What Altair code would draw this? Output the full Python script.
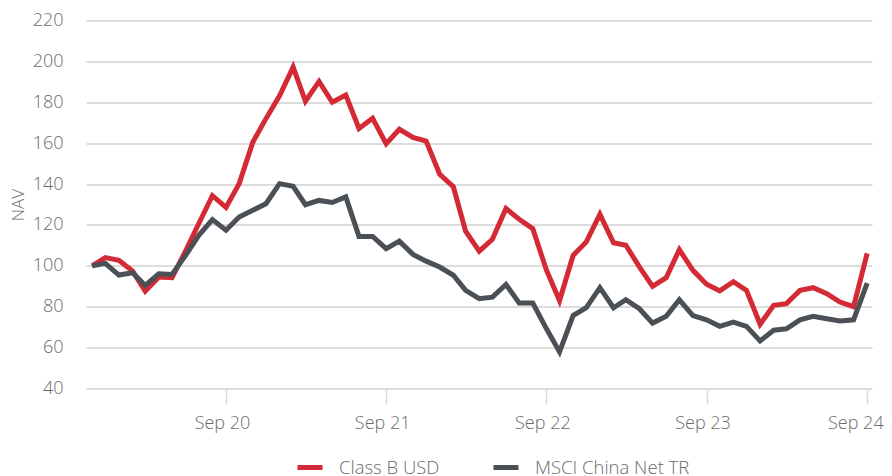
import altair as alt
import pandas as pd

dates = [d.strftime("%Y-%m-%d") for d in pd.date_range("2019-11-01", "2024-09-01", freq="MS")]

class_b_usd = [100, 104, 102.7, 97.5, 87.6, 94.5, 94.2, 107.3, 120.7, 134.3,
               128.6, 140.2, 160.4, 172, 183.2, 197.2, 180.5, 190.2, 180, 183.5,
               167.2, 172.2, 159.7, 166.8, 162.8, 161, 144.8, 138.7, 116.9, 107.2,
               113, 128, 122.8, 118.2, 98, 83, 105.1, 111.7, 125.2, 111.3,
               110.1, 99.5, 90, 94.2, 107.9, 97.8, 91, 87.8, 92.2, 88,
               71.4, 80.7, 81.5, 88, 89.3, 86.4, 82.3, 80, 106.1]

msci_china = [100, 101.2, 95.5, 96.6, 90.4, 96.1, 95.8, 105.1, 114.9, 122.6,
              117.4, 123.9, 127.2, 130.4, 140.2, 138.9, 129.9, 132, 131, 133.7,
              114.4, 114.4, 108.4, 112.1, 105.6, 102.3, 99.4, 95.4, 88, 83.9,
              84.7, 90.9, 81.8, 81.8, 69.3, 57.9, 75.7, 79.5, 89.3, 79.5,
              83.4, 79, 72, 75.3, 83.4, 75.7, 73.6, 70.4, 72.5, 70.4,
              63.3, 68.5, 69.2, 73.6, 75.3, 74.1, 73, 73.6, 91.5]

series_names = ["Class B USD", "MSCI China Net TR"]
series_colors = ["#d42a36", "#4a5055"]
y_ticks = [40, 60, 80, 100, 120, 140, 160, 180, 200, 220]
x_tick_years = [2020, 2021, 2022, 2023, 2024]

df = pd.DataFrame({
    "date": dates * 2,
    "series": [series_names[0]] * len(dates) + [series_names[1]] * len(dates),
    "nav": class_b_usd + msci_china,
})

FONT = "Open Sans"
TXT = "#6b6b6b"
GRID = "#dcdcdc"
LAST = "utcyear(datum.value) == 2024"

chart = alt.Chart(df).mark_line(strokeWidth=5, strokeJoin="miter", strokeCap="butt").encode(
    x=alt.X(
        "date:T",
        scale=alt.Scale(
            type="utc",
            domain=[
                alt.DateTime(year=2019, month=10, date=18, utc=True),
                alt.DateTime(year=2024, month=9, date=12, utc=True),
            ],
        ),
        axis=alt.Axis(
            title=None,
            values=[alt.DateTime(year=y, month=9, date=1, utc=True) for y in x_tick_years],
            labelExpr="utcFormat(datum.value, '%b %y')",
            grid=False,
            domain=False,
            ticks=True,
            tickSize=15,
            tickColor=GRID,
            tickWidth=1.5,
            labelPadding=11,
            labelAlign={"condition": {"test": LAST, "value": "right"}, "value": "center"},
            labelOffset={"condition": {"test": LAST, "value": 16}, "value": -4},
            labelFont=FONT,
            labelFontSize=18,
            labelFontWeight=300,
            labelColor=TXT,
            labelOverlap=False,
            labelBound=False,
        ),
    ),
    y=alt.Y(
        "nav:Q",
        scale=alt.Scale(domain=[40, 220], nice=False, zero=False),
        axis=alt.Axis(
            title="NAV",
            values=y_ticks,
            grid=True,
            gridColor=GRID,
            gridWidth=2,
            domain=False,
            ticks=False,
            labelPadding=23,
            labelFont=FONT,
            labelFontSize=18,
            labelFontWeight=300,
            labelColor=TXT,
            titleFont=FONT,
            titleFontSize=17,
            titleFontWeight=300,
            titleColor=TXT,
            titlePadding=5,
        ),
    ),
    color=alt.Color(
        "series:N",
        scale=alt.Scale(domain=series_names, range=series_colors),
        legend=alt.Legend(
            title=None,
            orient="none",
            legendX=209,
            legendY=432,
            direction="horizontal",
            symbolType="stroke",
            symbolSize=625,
            symbolStrokeWidth=5,
            labelFont=FONT,
            labelFontSize=18.5,
            labelFontWeight=300,
            labelColor=TXT,
            labelOffset=14,
            columnPadding=43,
        ),
    ),
).properties(
    width=786,
    height=368,
    padding={"left": 78, "top": 12.5, "right": 12, "bottom": 88},
    autosize=alt.AutoSizeParams(type="none"),
).configure_view(stroke=None)

chart.save("out.html", embed_options={"renderer": "svg", "actions": False})
